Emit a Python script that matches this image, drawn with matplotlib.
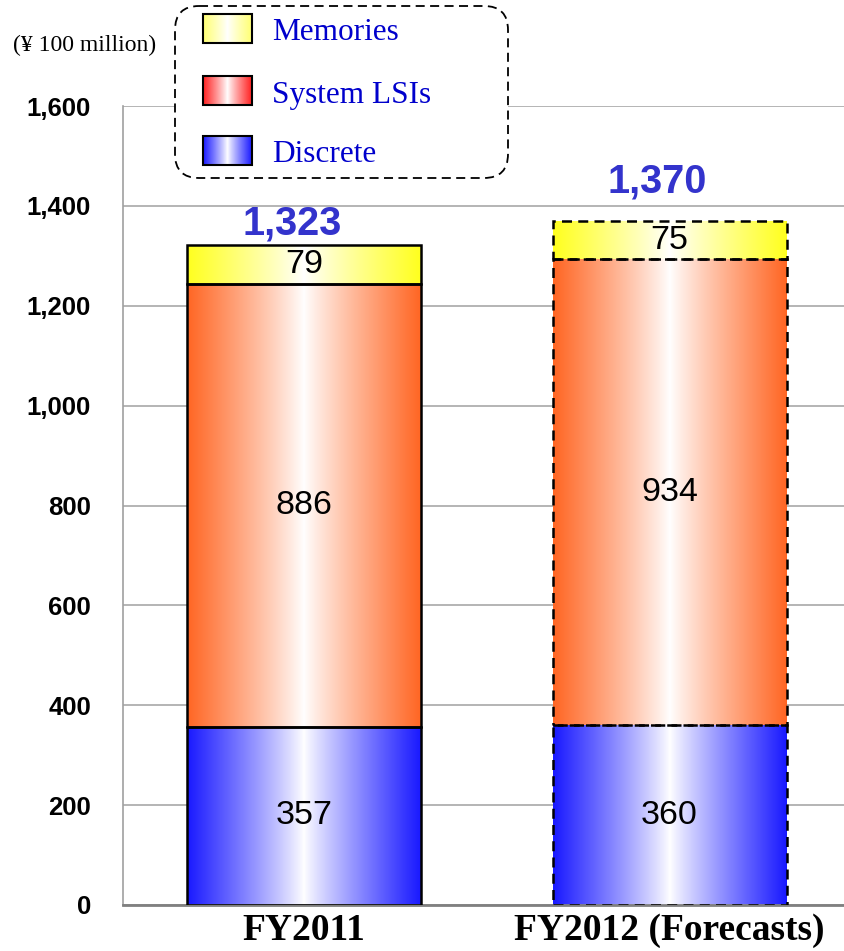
import numpy as np
import matplotlib
matplotlib.use("Agg")
import matplotlib.pyplot as plt
from matplotlib.patches import FancyBboxPatch, Rectangle
from matplotlib.ticker import FuncFormatter
from matplotlib.transforms import ScaledTranslation

# Sales by product line (¥ 100 million)
categories = ["FY2011", "FY2012 (Forecasts)"]
series_names = ["Discrete", "System LSIs", "Memories"]
discrete = [357, 360]
system_lsis = [886, 934]
memories = [79, 75]
totals = [1323, 1370]
y_ticks = [0, 200, 400, 600, 800, 1000, 1200, 1400, 1600]

series_values = [discrete, system_lsis, memories]
series_colors = [(0.10, 0.10, 1.00), (1.00, 0.40, 0.14), (1.00, 1.00, 0.12)]
legend_colors = [(0.10, 0.10, 1.00), (1.00, 0.13, 0.13), (1.00, 1.00, 0.45)]
legend_order = ["Memories", "System LSIs", "Discrete"]

SANS = ["Liberation Sans", "DejaVu Sans"]
SERIF = ["Liberation Serif", "DejaVu Serif"]


def gradient(color, n=256):
    t = np.linspace(0.0, 1.0, n)
    w = np.abs(2 * t - 1) ** 0.9
    c = np.array(color)
    img = (1 - w)[:, None] * np.ones(3) + w[:, None] * c
    return img[None, :, :]


W, H = 845, 951
fig = plt.figure(figsize=(W / 100, H / 100), dpi=100)
ax = fig.add_axes([123 / W, (H - 905) / H, (W - 123) / W, (905 - 106) / H])

x = np.arange(len(categories))
bar_width = 0.64
bottoms = np.zeros(len(categories))
for vals, color in zip(series_values, series_colors):
    bars = ax.bar(x, vals, bar_width, bottom=bottoms, facecolor="none",
                  edgecolor="black", linewidth=1.8, zorder=3)
    for i, rect in enumerate(bars):
        if i == 1:
            rect.set_linestyle((0, (4, 2.5)))
        rx, ry = rect.get_x(), rect.get_y()
        rw, rh = rect.get_width(), rect.get_height()
        im = ax.imshow(gradient(color), extent=(rx, rx + rw, ry, ry + rh),
                       aspect="auto", zorder=2, interpolation="bilinear")
        im.set_clip_path(rect)
        ax.text(rx + rw / 2, ry + rh / 2, f"{vals[i]:,}", ha="center",
                va="center", fontsize=24.5, family=SANS, color="black",
                zorder=4)
    bottoms = bottoms + np.array(vals)

# Totals above each stack
total_offsets = [19, 56]
for i, t in enumerate(totals):
    ax.text(x[i] - 0.033, t + total_offsets[i], f"{t:,}", ha="center",
            va="baseline", fontsize=28.5, fontweight="bold", family=SANS,
            color="#3333CC", zorder=4)

ax.set_xlim(-0.4952, 1.480)
ax.set_ylim(0, 1600)
ax.set_yticks(y_ticks)
ax.yaxis.set_major_formatter(FuncFormatter(lambda v, p: f"{int(v):,}"))
ax.set_xticks(x)
ax.set_xticklabels(categories)
for lbl in ax.get_yticklabels():
    lbl.set_family(SANS)
    lbl.set_fontweight("bold")
    lbl.set_fontsize(18.5)
label_shift_px = [-12, 6]
for lbl, dx in zip(ax.get_xticklabels(), label_shift_px):
    lbl.set_family(SERIF)
    lbl.set_fontweight("bold")
    lbl.set_fontsize(27)
    lbl.set_transform(lbl.get_transform()
                      + ScaledTranslation(dx / 100, 0, fig.dpi_scale_trans))
ax.tick_params(axis="y", length=0, pad=23)
ax.tick_params(axis="x", length=0, pad=6)

ax.set_axisbelow(True)
ax.yaxis.grid(True, color="#A8A8A8", linewidth=1.2)
for s in ("top", "right"):
    ax.spines[s].set_visible(False)
ax.spines["left"].set_color("#A0A0A0")
ax.spines["left"].set_linewidth(1.2)
ax.spines["bottom"].set_color("#808080")
ax.spines["bottom"].set_linewidth(2)

# Overlay in pixel coordinates for the unit label and legend
ov = fig.add_axes([0, 0, 1, 1])
ov.set_xlim(0, W)
ov.set_ylim(H, 0)
ov.axis("off")

ov.text(13, 45, "(¥ 100 million)", ha="left", va="center", fontsize=17,
        family=SERIF, color="black")

box = FancyBboxPatch((175, 6), 333, 172,
                     boxstyle="round,pad=0,rounding_size=24",
                     facecolor="white", edgecolor="black", linewidth=1.3,
                     linestyle=(0, (5, 3)), zorder=1)
ov.add_patch(box)

swatch_y = [14, 76, 136]
for name, sy in zip(legend_order, swatch_y):
    idx = series_names.index(name)
    ov.imshow(gradient(legend_colors[idx]), extent=(203, 252, sy + 29, sy),
              aspect="auto", zorder=2, interpolation="bilinear")
    ov.add_patch(Rectangle((203, sy), 49, 29, facecolor="none",
                           edgecolor="black", linewidth=1.5, zorder=3))
    ov.text(272, sy + 19, name, ha="left", va="center", fontsize=22.5,
            family=SERIF, color="#0000CC", zorder=3)
ov.set_xlim(0, W)
ov.set_ylim(H, 0)

fig.savefig("out.png", dpi=100)
